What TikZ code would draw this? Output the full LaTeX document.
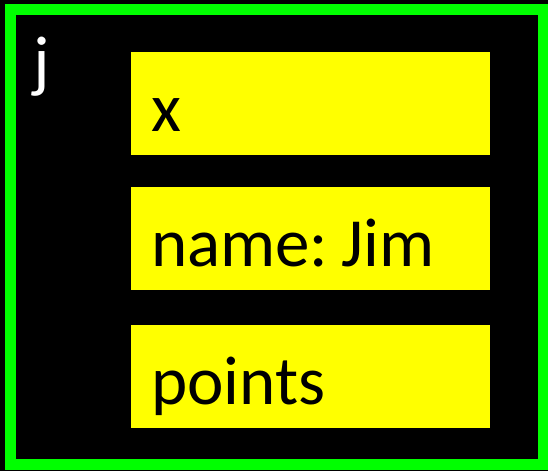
\documentclass[tikz,border=0pt]{standalone}
\usepackage{fontspec}
\setmainfont{Carlito}
\usepackage{tikz}
\usetikzlibrary{positioning}

\definecolor{framegreen}{RGB}{0,255,0}
\definecolor{fieldyellow}{RGB}{255,255,0}
\frenchspacing

\begin{document}
\begin{tikzpicture}[
  x=1pt, y=-1pt,
  field/.style={fill=fieldyellow, anchor=north west, inner xsep=20pt, inner ysep=0pt,
    text width=319pt, align=left, text height=79pt, text depth=24pt,
    font=\fontsize{69}{80}\selectfont},
  objframe/.style={draw=framegreen, line width=10.5pt},
  objname/.style={anchor=base west, inner sep=0pt, text=white, font=\fontsize{69}{80}\selectfont}
]
  \def\fieldx{131}
  \def\picw{548}
  \def\pich{471}

  % background and object frame
  \fill[black] (0,0) rectangle (\picw,\pich);
  \useasboundingbox (0,0) rectangle (\picw,\pich);
  \draw[objframe] (10.3,9.5) rectangle (543.5,464.5);

  \node[objname] (jname) at (33,84) {j};

  \node[field] (fieldx) at (\fieldx,52) {x};
  \node[field] (fieldname) at (\fieldx,187) {name:\hspace{13pt}Jim};
  \node[field] (fieldpoints) at (\fieldx,325) {points};
\end{tikzpicture}
\end{document}
